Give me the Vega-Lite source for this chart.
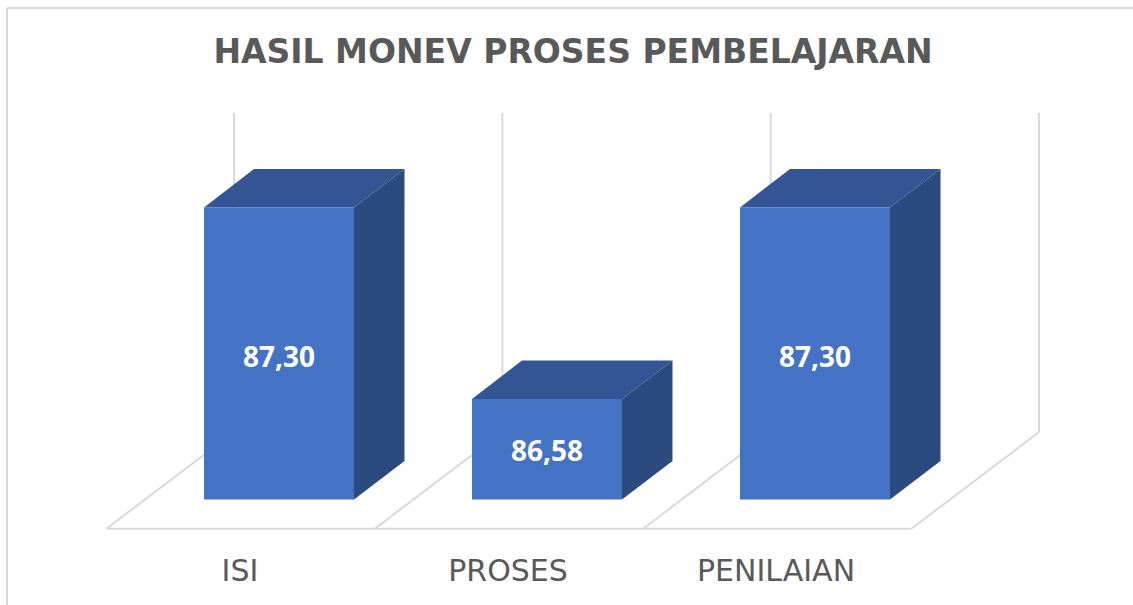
{
"$schema":"https://vega.github.io/schema/vega-lite/v6.json",
"width":1133,"height":605,"padding":0,"autosize":"none","background":"#ffffff",
"title":{"text":"HASIL MONEV PROSES PEMBELAJARAN","anchor":"middle","orient":"top","offset":-96,"baseline":"alphabetic","dx":6.5,"font":"DejaVu Sans","fontSize":33,"fontWeight":"bold","color":"#595959"},
"config":{"view":{"stroke":null}},
"datasets":{
"garis":[
{"x":-0.3708,"x2":3.8255,"y":88.05,"y2":88.05,"jenis":"bingkai"},
{"x":-0.3708,"x2":-0.3708,"y":88.05,"y2":85.8054,"jenis":"bingkai"},
{"x":0.4752,"x2":0.4752,"y":87.6553,"y2":86.4559,"jenis":"dinding"},
{"x":1.4752,"x2":1.4752,"y":87.6553,"y2":86.4559,"jenis":"dinding"},
{"x":2.4752,"x2":2.4752,"y":87.6553,"y2":86.4559,"jenis":"dinding"},
{"x":3.4752,"x2":3.4752,"y":87.6553,"y2":86.4559,"jenis":"dinding"},
{"x":0,"x2":3,"y":86.0923,"y2":86.0923,"jenis":"lantai"},
{"x":0,"x2":0.4752,"y":86.0923,"y2":86.4559,"jenis":"lantai"},
{"x":1,"x2":1.4752,"y":86.0923,"y2":86.4559,"jenis":"lantai"},
{"x":2,"x2":2.4752,"y":86.0923,"y2":86.4559,"jenis":"lantai"},
{"x":3,"x2":3.4752,"y":86.0923,"y2":86.4559,"jenis":"lantai"}
],
"batang":[
{"kategori":"ISI","nilai":87.30,"label":"87,30","kiri":0.3634,"kanan":0.9224,"tengah":0.6429,"dasar":86.2021,"posisi":86.7305,"xKategori":0.4975,"yKategori":85.9295},
{"kategori":"PROSES","nilai":86.58,"label":"86,58","kiri":1.3621,"kanan":1.9211,"tengah":1.6416,"dasar":86.2021,"posisi":86.377,"xKategori":1.4963,"yKategori":85.9295},
{"kategori":"PENILAIAN","nilai":87.30,"label":"87,30","kiri":2.3609,"kanan":2.9199,"tengah":2.6404,"dasar":86.2021,"posisi":86.7305,"xKategori":2.4952,"yKategori":85.9295}
],
"sisi":[
{"kategori":"ISI","x":0.9224,"atas":87.30,"bawah":86.2021},
{"kategori":"ISI","x":1.1106,"atas":87.44475,"bawah":86.34685},
{"kategori":"PROSES","x":1.9211,"atas":86.58,"bawah":86.2021},
{"kategori":"PROSES","x":2.1093,"atas":86.72475,"bawah":86.34685},
{"kategori":"PENILAIAN","x":2.9199,"atas":87.30,"bawah":86.2021},
{"kategori":"PENILAIAN","x":3.1081,"atas":87.44475,"bawah":86.34685}
],
"puncak":[
{"kategori":"ISI","x":0.3634,"atas":87.30,"bawah":87.30},
{"kategori":"ISI","x":0.5497,"atas":87.44475,"bawah":87.30},
{"kategori":"ISI","x":0.9224,"atas":87.44475,"bawah":87.30},
{"kategori":"ISI","x":1.1106,"atas":87.44475,"bawah":87.44475},
{"kategori":"PROSES","x":1.3621,"atas":86.58,"bawah":86.58},
{"kategori":"PROSES","x":1.5484,"atas":86.72475,"bawah":86.58},
{"kategori":"PROSES","x":1.9211,"atas":86.72475,"bawah":86.58},
{"kategori":"PROSES","x":2.1093,"atas":86.72475,"bawah":86.72475},
{"kategori":"PENILAIAN","x":2.3609,"atas":87.30,"bawah":87.30},
{"kategori":"PENILAIAN","x":2.5472,"atas":87.44475,"bawah":87.30},
{"kategori":"PENILAIAN","x":2.9199,"atas":87.44475,"bawah":87.30},
{"kategori":"PENILAIAN","x":3.1081,"atas":87.44475,"bawah":87.44475}
]
},
"layer":[
{"data":{"name":"garis"},"mark":{"type":"rule","color":"#D9D9D9","strokeWidth":2},
 "encoding":{
  "x":{"field":"x","type":"quantitative","scale":{"domain":[-0.3969,3.8255],"nice":false,"zero":false},"axis":null},
  "x2":{"field":"x2"},
  "y":{"field":"y","type":"quantitative","scale":{"domain":[85.8054,88.0801],"nice":false,"zero":false},"axis":null},
  "y2":{"field":"y2"}}},
{"data":{"name":"sisi"},"mark":{"type":"area","color":"#2A4A80"},
 "encoding":{
  "x":{"field":"x","type":"quantitative"},
  "y":{"field":"atas","type":"quantitative","stack":null},
  "y2":{"field":"bawah"},
  "detail":{"field":"kategori"}}},
{"data":{"name":"puncak"},"mark":{"type":"area","color":"#335593"},
 "encoding":{
  "x":{"field":"x","type":"quantitative"},
  "y":{"field":"atas","type":"quantitative","stack":null},
  "y2":{"field":"bawah"},
  "detail":{"field":"kategori"}}},
{"data":{"name":"batang"},"mark":{"type":"rect","color":"#4472C4"},
 "encoding":{
  "x":{"field":"kiri","type":"quantitative"},
  "x2":{"field":"kanan"},
  "y":{"field":"nilai","type":"quantitative"},
  "y2":{"field":"dasar"}}},
{"data":{"name":"batang"},"mark":{"type":"text","font":"Open Sans","fontWeight":"bold","fontSize":28,"color":"#ffffff","baseline":"middle","align":"center"},
 "encoding":{
  "x":{"field":"tengah","type":"quantitative"},
  "y":{"field":"posisi","type":"quantitative"},
  "text":{"field":"label"}}},
{"data":{"name":"batang"},"mark":{"type":"text","font":"DejaVu Sans","fontSize":30,"color":"#595959","baseline":"middle","align":"center"},
 "encoding":{
  "x":{"field":"xKategori","type":"quantitative"},
  "y":{"field":"yKategori","type":"quantitative"},
  "text":{"field":"kategori"}}}
]
}
